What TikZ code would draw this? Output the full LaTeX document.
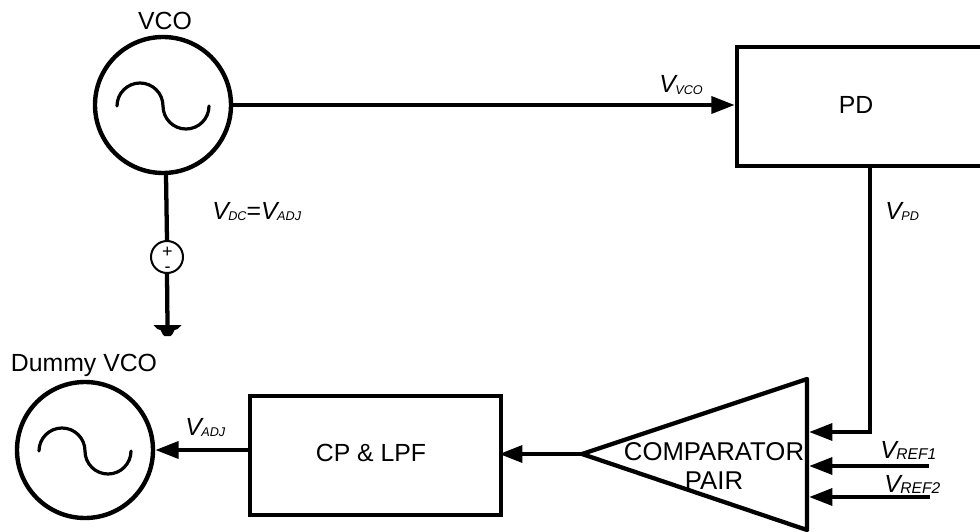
\documentclass[tikz,border=0pt]{standalone}
\usepackage{fontspec}
\setmainfont{Liberation Sans}
\usetikzlibrary{arrows.meta, positioning, calc, shapes.geometric}
\newcommand{\vlabel}[2][9.5pt]{\textit{V}\kern-1.8pt\raisebox{-0.06em}{\fontsize{#1}{12pt}\selectfont\textit{#2}}}
\tikzset{
  block/.style={draw, line width=3.3pt, minimum width=#1, minimum height=89.25pt, align=center},
  osc/.style={draw, circle, line width=3.3pt, minimum size=102pt, inner sep=0pt},
  dcsrc/.style={draw, circle, line width=1.5pt, minimum size=24pt, inner sep=0pt},
  sign/.style={inner sep=0pt, align=center, font=\fontsize{13.5pt}{11pt}\selectfont},
  wire/.style={line width=3.2pt},
  flow/.style={-{Triangle[length=17.5pt, width=12.5pt]}, line width=3.2pt},
  txt/.style={inner sep=0pt, anchor=base},
  lbl/.style={inner sep=0pt, anchor=base west},
  every node/.append style={font=\fontsize{18.6pt}{22pt}\selectfont},
  sinewave/.pic={
    \draw[line width=2.4pt, line cap=round] (0,0) .. controls (0,-12.7) and (10.3,-23) .. (23,-23)
      .. controls (35.7,-23) and (46,-12.7) .. (46,0)
      .. controls (46,12.7) and (56.3,23) .. (69,23)
      .. controls (81.7,23) and (92,12.7) .. (92,0);
  },
}
\begin{document}
\begin{tikzpicture}[x=0.75pt, y=-0.75pt]
  \useasboundingbox (0,0) rectangle (980,531);
  % oscillators
  \node[osc] (vco) at (163,105) {};
  \node[osc] (dummy) at (85,450) {};
  \pic at (117,106) {sinewave};
  \pic at (39,451) {sinewave};
  \node[txt] (vconame) at (165,29.5) {VCO};
  \node[txt] (dummyname) at (84,371) {Dummy VCO};
  % blocks
  \node[block=195pt] (pd) at (867,106.5) {};
  \node[txt] (pdname) at (856,113.5) {PD};
  \node[block=188pt] (cplpf) at (375.5,455.5) {};
  \node[txt] (cplpfname) at (371,461.5) {CP \& LPF};
  \coordinate (apex) at (582,454);
  \coordinate (topr) at (807,379);
  \coordinate (botr) at (807,530);
  \draw[wire, line join=round] (apex) -- (topr) -- (botr) -- cycle;
  \node[txt, font=\fontsize{19.3pt}{22pt}\selectfont] (comp) at (714,460) {COMPARATOR};
  \node[txt, font=\fontsize{19.3pt}{22pt}\selectfont] (pair) at (714,489) {PAIR};
  % dc source and ground
  \node[dcsrc] (dc) at (167,257) {};
  \node[sign] (dcsign) at (167.5,260) {+\\-};
  \coordinate (gnd) at (167.5,325);
  \draw[wire] (vco.south) ++(3,0) -- (dc.north);
  \draw[wire] (dc.south) -- (gnd);
  \fill ($(gnd)+(-14,0)$) -- ($(gnd)+(14,0)$) -- ($(gnd)+(10,4)$) -- ($(gnd)+(7,5)$) -- ($(gnd)+(5,9)$)
    -- ($(gnd)+(3,11)$) -- ($(gnd)+(-3,11)$) -- ($(gnd)+(-5,9)$) -- ($(gnd)+(-7,5)$) -- ($(gnd)+(-10,4)$) -- cycle;
  % signals
  \coordinate (ref1) at (929,466);
  \coordinate (ref2) at (930,497);
  \coordinate (fbk) at (870,432);
  \draw[flow] (vco.east) -- (pd.west |- vco.east);
  \draw[wire] (pd.south -| fbk) -- (fbk);
  \draw[flow] (fbk) ++(1.5,0) -- (809,432);
  \draw[flow] (ref1) -- (809,466);
  \draw[flow] (ref2) -- (809,497);
  \draw[flow, shorten >=-3pt] (apex) -- (cplpf.east |- apex);
  \draw[flow] (cplpf.west |- dummy.east) -- (dummy.east);
  % labels
  \node[lbl] (vvco) at (659,93) {\vlabel{VCO}};
  \node[lbl] (vpd) at (885,219) {\vlabel{PD}};
  \node[lbl] (vdc) at (212,219) {\vlabel{DC}=\vlabel{ADJ}};
  \node[lbl] (vadj) at (185,435) {\vlabel{ADJ}};
  \node[lbl] (vref1) at (880,458) {\vlabel[11.7pt]{REF1}};
  \node[lbl] (vref2) at (884,492) {\vlabel[11.7pt]{REF2}};
\end{tikzpicture}
\end{document}
